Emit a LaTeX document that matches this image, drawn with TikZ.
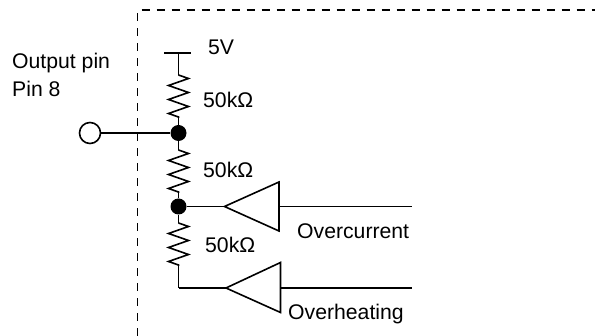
\documentclass[tikz,border=0pt]{standalone}
\usepackage{fontspec}
\setmainfont{Liberation Sans}
\usetikzlibrary{positioning}
\usetikzlibrary{decorations.pathmorphing}
\tikzset{
    wire/.style={
           line width=1.6pt,
           },
    resistor/.style={
           line width=1.6pt,
           decorate,
           decoration={zigzag, segment length=14pt, amplitude=10pt},
           },
    junction/.style={
           circle,
           fill=black,
           inner sep=0pt,
           minimum size=16pt,
           },
    pinhole/.style={
           circle,
           draw=black, line width=1.6pt,
           fill=white,
           inner sep=0pt,
           minimum size=21pt,
           },
    label/.style={
           inner sep=0pt,
           font=\fontsize{21.2}{25}\selectfont,
           },
}

\begin{document}
\begin{tikzpicture}[x=1pt,y=-1pt]
\useasboundingbox (0,0) rectangle (595,336);
% boundary of the device
\coordinate (c) at (137.5,336);
\coordinate (d) at (137.5,10);
\coordinate (e) at (595,10);
\draw[line width=1.8pt, dash pattern=on 8pt off 7pt] (c) -- (d) -- (e);
% supply and divider
\coordinate (vbarl) at (164,53);
\coordinate (vbarr) at (191,53);
\coordinate (vcc) at (178.5,53);
\coordinate (r1a) at (178.5,75);
\coordinate (r1b) at (178.5,118);
\node[junction] (n1) at (178.5,133) {};
\coordinate (r2a) at (178.5,150);
\coordinate (r2b) at (178.5,193);
\node[junction] (n2) at (178.5,206.5) {};
\coordinate (r3a) at (178.5,223);
\coordinate (r3b) at (178.5,266);
\coordinate (corner) at (178.5,288);
\draw[wire] (vbarl) -- (vbarr);
\draw[wire] (vcc) -- (r1a);
\draw[resistor] (r1a) -- (r1b);
\draw[wire] (r1b) -- (n1);
\draw[wire] (n1) -- (r2a);
\draw[resistor] (r2a) -- (r2b);
\draw[wire] (r2b) -- (n2);
\draw[wire] (n2) -- (r3a);
\draw[resistor] (r3a) -- (r3b);
\draw[wire] (r3b) -- (corner);
% output pin
\node[pinhole] (pin) at (90,133) {};
\draw[wire] (pin) -- (n1);
% comparators
\coordinate (a1) at (224.5,206.5);
\coordinate (a1t) at (279,182);
\coordinate (a1m) at (279,206.5);
\coordinate (a1b) at (279,231);
\coordinate (in1) at (412,206.5);
\draw[wire] (a1) -- (a1t) -- (a1b) -- cycle;
\draw[wire] (n2) -- (a1);
\draw[wire] (a1m) -- (in1);
\coordinate (a2) at (226,288);
\coordinate (a2t) at (280.5,262.5);
\coordinate (a2m) at (280.5,288);
\coordinate (a2b) at (280.5,312.5);
\coordinate (in2) at (412,288);
\draw[wire] (a2) -- (a2t) -- (a2b) -- cycle;
\draw[wire] (corner) -- (a2);
\draw[wire] (a2m) -- (in2);
% labels
\node[label, anchor=west] (l5v) at (208,47) {5V};
\node[label, anchor=west] (lr1) at (203,100) {50kΩ};
\node[label, anchor=west] (lr2) at (203,170) {50kΩ};
\node[label, anchor=west] (lr3) at (205,245) {50kΩ};
\node[label, anchor=west] (lout) at (12,63) {Output pin};
\node[label, anchor=west] (lpin) at (12,89) {Pin 8};
\node[label, anchor=west] (lover) at (297,231) {Overcurrent};
\node[label, anchor=west] (lheat) at (288,314) {Overheating};
\end{tikzpicture}
\end{document}
